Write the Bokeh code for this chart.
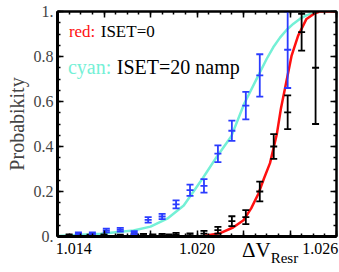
from bokeh.plotting import figure
from bokeh.layouts import column
from bokeh.models import FixedTicker, LinearAxis, Label, Range1d, CustomJSTickFormatter, Div
from bokeh.embed import file_html
from bokeh.resources import INLINE

# ---------------- data ----------------
blue_x = [1.0149, 1.0155, 1.0161, 1.0167, 1.0173, 1.0179, 1.0185, 1.0191, 1.0197,
          1.0203, 1.0209, 1.0215, 1.0221, 1.0227, 1.0239]
blue_y = [0.012, 0.012, 0.027, 0.030, 0.016, 0.074, 0.089, 0.143, 0.206,
          0.225, 0.368, 0.470, 0.582, 0.716, 0.830]
blue_err = [0.006, 0.006, 0.008, 0.008, 0.008, 0.012, 0.012, 0.018, 0.025,
            0.030, 0.037, 0.045, 0.061, 0.094, 0.170]

black_x = [1.0145, 1.0154, 1.0160, 1.0167, 1.0173, 1.0177, 1.0181, 1.0185, 1.0188,
           1.0191, 1.0197, 1.0203, 1.0209, 1.0215, 1.0221, 1.0227, 1.0233, 1.0239,
           1.0245, 1.0251]
black_y = [0.004, 0.003, 0.004, 0.003, 0.005, 0.006, 0.004, 0.006, 0.004,
           0.008, 0.006, 0.013, 0.028, 0.068, 0.086, 0.200, 0.400, 0.552,
           0.908, 0.750]
black_err = [0.005, 0.005, 0.005, 0.005, 0.006, 0.006, 0.005, 0.006, 0.005,
             0.008, 0.008, 0.012, 0.015, 0.022, 0.031, 0.044, 0.055, 0.075,
             0.082, 0.250]

cyan_curve_x = [1.0140, 1.01586, 1.01727, 1.0180, 1.01872, 1.01943, 1.02024, 1.02086,
                1.02147, 1.02203, 1.02264, 1.02300, 1.02328, 1.02357, 1.02385, 1.02415,
                1.02442, 1.02470, 1.02499, 1.0252, 1.0260]
cyan_curve_y = [0.002, 0.012, 0.027, 0.044, 0.079, 0.138, 0.258, 0.356,
                0.444, 0.590, 0.716, 0.790, 0.841, 0.884, 0.918, 0.946,
                0.967, 0.983, 0.993, 1.0, 1.0]

red_curve_x = [1.01941, 1.02027, 1.02100, 1.02155, 1.02200, 1.02233, 1.02264, 1.02288,
               1.02314, 1.02343, 1.02361, 1.02381, 1.02407, 1.02435, 1.02471, 1.02507,
               1.02528, 1.0260]
red_curve_y = [0.0, 0.002, 0.015, 0.040, 0.072, 0.125, 0.190, 0.258,
               0.326, 0.453, 0.569, 0.671, 0.804, 0.893, 0.967, 0.992, 1.0, 1.0]

x_tick_vals = [1.014, 1.020, 1.026]
x_tick_labels = ["1.014", "1.020", "1.026"]
y_tick_vals = [0.0, 0.2, 0.4, 0.6, 0.8, 1.0]
y_tick_labels = ["0.", "0.2", "0.4", "0.6", "0.8", "1."]

SERIF = "Liberation Serif"
CYAN = "#74f0d6"
BLUE = "#2b3cff"
RED = "#ff1010"

p = figure(width=339, height=272, output_backend="svg", toolbar_location=None,
           x_range=Range1d(1.014, 1.026), y_range=Range1d(0, 1),
           min_border_left=57, min_border_right=3, min_border_top=11, min_border_bottom=36,
           x_axis_location=None, y_axis_location=None)
p.background_fill_color = "white"
p.border_fill_color = "white"
p.grid.visible = False
p.outline_line_color = "black"
p.outline_line_width = 2

xmaj = [1.014 + 0.002 * i for i in range(7)]
xmin = [1.014 + 0.0005 * i for i in range(25)]
ymaj = [0.2 * i for i in range(6)]
ymin = [0.05 * i for i in range(21)]

blank = CustomJSTickFormatter(code='return "";')

def tick_axis(ticks, minors, lw):
    ax = LinearAxis(ticker=FixedTicker(ticks=ticks, minor_ticks=minors), formatter=blank)
    ax.major_label_text_color = None
    ax.major_label_standoff = 0
    ax.major_tick_in = 6
    ax.major_tick_out = 0
    ax.minor_tick_in = 3
    ax.minor_tick_out = 0
    ax.major_tick_line_width = 1.5
    ax.minor_tick_line_width = 1.5
    ax.axis_line_width = lw
    return ax

# bottom: ticks axis, then label axis below it
p.add_layout(tick_axis(xmaj, xmin, 3), "below")
xlab_pos = [x_tick_vals[0] + 0.0007, x_tick_vals[1], x_tick_vals[2] - 0.0007]
xlab_axis = LinearAxis(ticker=FixedTicker(ticks=xlab_pos, minor_ticks=[]),
                       formatter=CustomJSTickFormatter(args=dict(labels=x_tick_labels),
                                                       code="return labels[index];"))
xlab_axis.axis_line_color = None
xlab_axis.major_tick_line_color = None
xlab_axis.major_tick_in = 0
xlab_axis.major_tick_out = 0
xlab_axis.minor_tick_line_color = None
xlab_axis.major_label_standoff = 6
xlab_axis.major_label_text_font = SERIF
xlab_axis.major_label_text_font_size = "16px"
xlab_axis.major_label_text_color = "black"
p.add_layout(xlab_axis, "below")

# left axis with labels
yax = LinearAxis(ticker=FixedTicker(ticks=ymaj, minor_ticks=ymin),
                 formatter=CustomJSTickFormatter(args=dict(labels=y_tick_labels),
                                                 code="return labels[index];"))
yax.major_tick_in = 6
yax.major_tick_out = 0
yax.minor_tick_in = 3
yax.minor_tick_out = 0
yax.major_tick_line_width = 1.5
yax.minor_tick_line_width = 1.5
yax.axis_line_width = 3
yax.major_label_standoff = 4
yax.major_label_text_font = SERIF
yax.major_label_text_font_size = "16px"
yax.axis_label = "Probabikity"
yax.axis_label_text_font = SERIF
yax.axis_label_text_font_style = "normal"
yax.axis_label_text_font_size = "20px"
yax.axis_label_standoff = 3
p.add_layout(yax, "left")

p.add_layout(tick_axis(xmaj, xmin, 2), "above")
p.add_layout(tick_axis(ymaj, ymin, 2), "right")

# curves
p.line(cyan_curve_x, cyan_curve_y, line_color=CYAN, line_width=2.5)
p.line(red_curve_x, red_curve_y, line_color=RED, line_width=2.5)

def errbars(xs, ys, es, color):
    lo = [y - e for y, e in zip(ys, es)]
    hi = [y + e for y, e in zip(ys, es)]
    p.segment(x0=xs, y0=lo, x1=xs, y1=hi, line_color=color, line_width=1.8)
    p.scatter(xs, lo, marker="dash", size=7, line_color=color, line_width=1.8)
    p.scatter(xs, hi, marker="dash", size=7, line_color=color, line_width=1.8)
    p.scatter(xs, ys, marker="dash", size=7, line_color=color, line_width=1.8)

errbars(black_x, black_y, black_err, "black")
errbars(blue_x, blue_y, blue_err, BLUE)

# legend texts
p.add_layout(Label(x=1.01449, y=0.913, text="red:", text_font=SERIF, text_font_size="17px",
                   text_color=RED, text_baseline="alphabetic"))
p.add_layout(Label(x=1.01586, y=0.913, text="ISET=0", text_font=SERIF, text_font_size="17px",
                   text_color="black", text_baseline="alphabetic"))
p.add_layout(Label(x=1.01445, y=0.752, text="cyan:", text_font=SERIF, text_font_size="20px",
                   text_color=CYAN, text_baseline="alphabetic"))
p.add_layout(Label(x=1.01655, y=0.752, text="ISET=20 namp", text_font=SERIF, text_font_size="20px",
                   text_color="black", text_baseline="alphabetic"))

# x axis title: Delta V with subscript, on the tick-label line
xtitle = Div(text='<span style="font-size:21px">&Delta;V</span>'
                  '<span style="font-size:15px; position:relative; top:6px">Resr</span>',
             styles={"font-family": "Liberation Serif", "line-height": "1", "color": "black",
                     "white-space": "nowrap"},
             width=80, height=24, margin=(-32, 0, 0, 242))

layout = column(p, xtitle, spacing=0)
open("out.html", "w").write(file_html(layout, INLINE))
